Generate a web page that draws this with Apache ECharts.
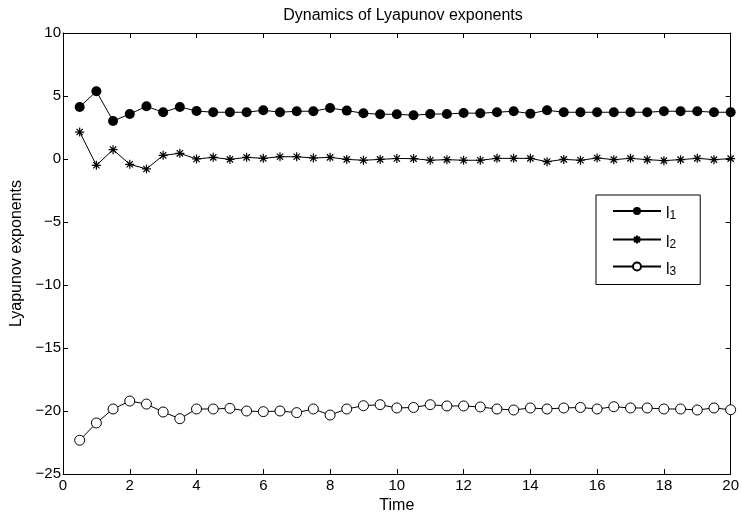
<!DOCTYPE html>
<html>
<head>
<meta charset="utf-8">
<script src="https://cdn.jsdelivr.net/npm/echarts@6/dist/echarts.min.js"></script>
<style>html,body{margin:0;padding:0;background:#fff}#c{width:742px;height:519px}</style>
</head>
<body>
<div id="c"></div>
<script>
const times = [0.5,1,1.5,2,2.5,3,3.5,4,4.5,5,5.5,6,6.5,7,7.5,8,8.5,9,9.5,10,
  10.5,11,11.5,12,12.5,13,13.5,14,14.5,15,15.5,16,16.5,17,17.5,18,18.5,19,19.5,20];
const l1 = [4.13,5.37,3.02,3.57,4.18,3.71,4.13,3.81,3.71,3.71,3.71,3.87,3.71,3.79,3.79,4.05,3.84,3.63,3.55,3.55,
  3.47,3.57,3.57,3.65,3.63,3.71,3.79,3.60,3.87,3.71,3.71,3.71,3.71,3.71,3.71,3.79,3.79,3.79,3.71,3.71];
const l2 = [2.14,-0.50,0.74,-0.42,-0.79,0.29,0.45,0.00,0.13,-0.03,0.13,0.05,0.18,0.18,0.08,0.13,-0.03,-0.10,-0.03,0.04,
  0.03,-0.10,-0.05,-0.10,-0.10,0.05,0.05,0.05,-0.21,-0.03,-0.10,0.08,-0.05,0.05,-0.05,-0.13,-0.05,0.05,-0.05,0.03];
const l3 = [-22.32,-20.95,-19.84,-19.21,-19.45,-20.08,-20.61,-19.84,-19.84,-19.79,-20.00,-20.05,-20.00,-20.13,-19.84,-20.32,-19.84,-19.58,-19.50,-19.76,
  -19.72,-19.50,-19.60,-19.60,-19.68,-19.84,-19.92,-19.76,-19.84,-19.76,-19.72,-19.84,-19.66,-19.76,-19.76,-19.84,-19.84,-19.92,-19.76,-19.90];
const seriesNames = ['l1','l2','l3'];
const xTicks = {min:0, max:20, interval:2};
const yTicks = {min:-25, max:10, interval:5};

const pair = arr => times.map((t,i)=>[t,arr[i]]);
const FONT = 'Liberation Sans, Arial, Helvetica, sans-serif';
const asterisk = 'path://M0,5L10,5M5,0L5,10M1.5,1.5L8.5,8.5M8.5,1.5L1.5,8.5';
const minusFmt = v => v < 0 ? '\u2212' + Math.abs(v) : String(v);

const chart = echarts.init(document.getElementById('c'), null, {renderer:'canvas'});
const axisCommon = {
  axisLine:{show:true, onZero:false, lineStyle:{color:'#000', width:1}},
  axisTick:{show:true, inside:true, length:5, lineStyle:{color:'#000'}},
  splitLine:{show:false}
};
chart.setOption({
  animation:false,
  backgroundColor:'#fff',
  title:{text:'Dynamics of Lyapunov exponents', left:398, textAlign:'center', top:3,
    textStyle:{fontFamily:FONT, fontSize:16, fontWeight:'normal', color:'#000'}},
  grid:{left:63, right:9, top:33, bottom:44},
  xAxis:[
    Object.assign({type:'value', min:xTicks.min, max:xTicks.max, interval:xTicks.interval, position:'bottom',
      name:'Time', nameLocation:'middle', nameGap:24,
      nameTextStyle:{fontFamily:FONT, fontSize:16, color:'#000'},
      axisLabel:{fontFamily:FONT, fontSize:15, color:'#000', margin:4, formatter:minusFmt}}, axisCommon),
    Object.assign({type:'value', min:xTicks.min, max:xTicks.max, interval:xTicks.interval, position:'top',
      axisLabel:{show:false}}, axisCommon)
  ],
  yAxis:[
    Object.assign({type:'value', min:yTicks.min, max:yTicks.max, interval:yTicks.interval, position:'left',
      name:'Lyapunov exponents', nameLocation:'middle', nameGap:38,
      nameTextStyle:{fontFamily:FONT, fontSize:16, color:'#000'},
      axisLabel:{fontFamily:FONT, fontSize:15, color:'#000', margin:2, formatter:minusFmt}}, axisCommon),
    Object.assign({type:'value', min:yTicks.min, max:yTicks.max, interval:yTicks.interval, position:'right',
      axisLabel:{show:false}}, axisCommon)
  ],
  legend:{
    orient:'vertical', left:596, top:195,
    data:seriesNames,
    backgroundColor:'#fff', borderColor:'#000', borderWidth:1, borderRadius:0,
    padding:[11,24,7,16], itemGap:11, itemWidth:48, itemHeight:10,
    formatter: n => '{b|l}{s|' + n.slice(1) + '}',
    textStyle:{fontFamily:FONT, color:'#000',
      rich:{b:{fontFamily:FONT, fontSize:16, color:'#000', verticalAlign:'bottom'},
            s:{fontFamily:FONT, fontSize:12, color:'#000', padding:[10,0,0,0], verticalAlign:'bottom'}}}
  },
  series:[
    {name:'l1', type:'line', data:pair(l1), symbol:'circle', symbolSize:10, showAllSymbol:true,
      lineStyle:{color:'#000', width:1}, itemStyle:{color:'#000', borderColor:'#000', borderWidth:0}},
    {name:'l2', type:'line', data:pair(l2), symbol:asterisk, symbolSize:9, showAllSymbol:true,
      lineStyle:{color:'#000', width:1}, itemStyle:{color:'none', borderColor:'#000', borderWidth:1.2}},
    {name:'l3', type:'line', data:pair(l3), symbol:'circle', symbolSize:10, showAllSymbol:true,
      lineStyle:{color:'#000', width:1}, itemStyle:{color:'#fff', borderColor:'#000', borderWidth:1}}
  ]
});
</script>
</body>
</html>
